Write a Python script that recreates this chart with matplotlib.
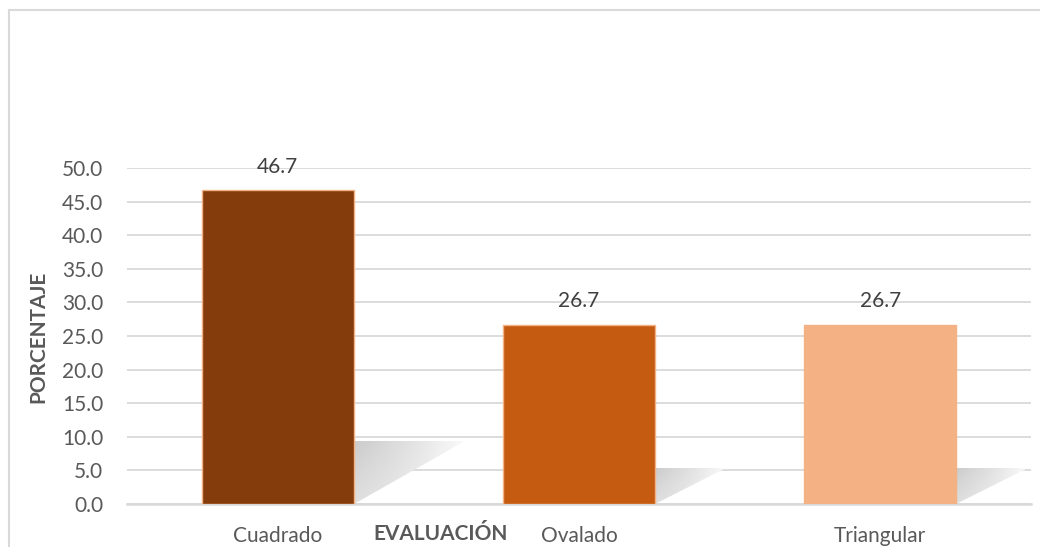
import matplotlib.pyplot as plt
from matplotlib.patches import Polygon, Rectangle
import numpy as np

categories = ["Cuadrado", "Ovalado", "Triangular"]
values = [46.7, 26.7, 26.7]
bar_colors = ["#843C0C", "#C55A11", "#F4B183"]
yticks = [0, 5, 10, 15, 20, 25, 30, 35, 40, 45, 50]

FONT = ["Lato", "DejaVu Sans"]
TICK = "#595959"
GRID = "#D9D9D9"


def add_shadow(ax, x_right, height):
    # soft perspective shadow cast to the right of the bar
    sh = height * 0.2
    reach = 0.37 * (height / 46.7) ** 0.8
    poly = Polygon([(x_right, 0), (x_right, sh), (x_right + reach, sh)],
                   closed=True, facecolor="none", edgecolor="none")
    ax.add_patch(poly)
    gx = np.linspace(1.0, 0.0, 256) ** 0.6
    gy = np.linspace(0.7, 1.0, 64).reshape(-1, 1)
    grad = gy * gx
    img = ax.imshow(grad, extent=(x_right, x_right + reach, 0, sh),
                    cmap="Greys", vmin=0, vmax=3.2, origin="lower",
                    aspect="auto", zorder=1.5, interpolation="bilinear")
    img.set_clip_path(poly)


def main():
    fig = plt.figure(figsize=(10.4, 5.47), dpi=100)
    fig.patch.set_facecolor("white")
    ax = fig.add_axes([127 / 1040, 1 - 504 / 547, 904 / 1040, 336 / 547])

    x = np.arange(len(categories))
    width = 0.505
    ax.bar(x, values, width=width, color=bar_colors, edgecolor="#F4B183",
           linewidth=1.0, zorder=3)
    for xi, v in zip(x, values):
        add_shadow(ax, xi + width / 2, v)
        ax.text(xi, v + 2.0, f"{v:.1f}", ha="center", va="bottom",
                fontsize=15, color="#404040", family=FONT, zorder=4)

    ax.set_xlim(-0.5, len(categories) - 0.5)
    ax.set_ylim(0, 50)
    ax.set_yticks(yticks)
    ax.set_yticklabels([f"{t:.1f}" for t in yticks], family=FONT,
                       fontsize=15, color=TICK)
    ax.set_xticks(x)
    ax.set_xticklabels(categories, family=FONT, fontsize=15, color=TICK)
    ax.tick_params(axis="both", length=0)
    ax.tick_params(axis="y", pad=17)
    ax.tick_params(axis="x", pad=16)

    ax.yaxis.grid(True, color=GRID, linewidth=1.3, zorder=0)
    ax.set_axisbelow(True)
    for side in ("top", "right", "left"):
        ax.spines[side].set_visible(False)
    ax.spines["bottom"].set_color(GRID)
    ax.spines["bottom"].set_linewidth(1.8)

    fig.text(38 / 1040, 1 - 337 / 547, "PORCENTAJE", rotation=90,
             ha="center", va="center", fontsize=15, fontweight="bold",
             color=TICK, family=FONT)
    fig.text(441 / 1040, 1 - 534 / 547, "EVALUACIÓN", ha="center",
             va="center", fontsize=15, fontweight="bold", color=TICK,
             family=FONT)

    border = Rectangle((9 / 1040, -0.1), 1.2, 1 - 10 / 547 + 0.1,
                       transform=fig.transFigure, facecolor="none",
                       edgecolor="#D9D9D9", linewidth=1.5)
    fig.patches.append(border)

    fig.savefig("out.png", dpi=100)
    plt.close(fig)


if __name__ == "__main__":
    main()
